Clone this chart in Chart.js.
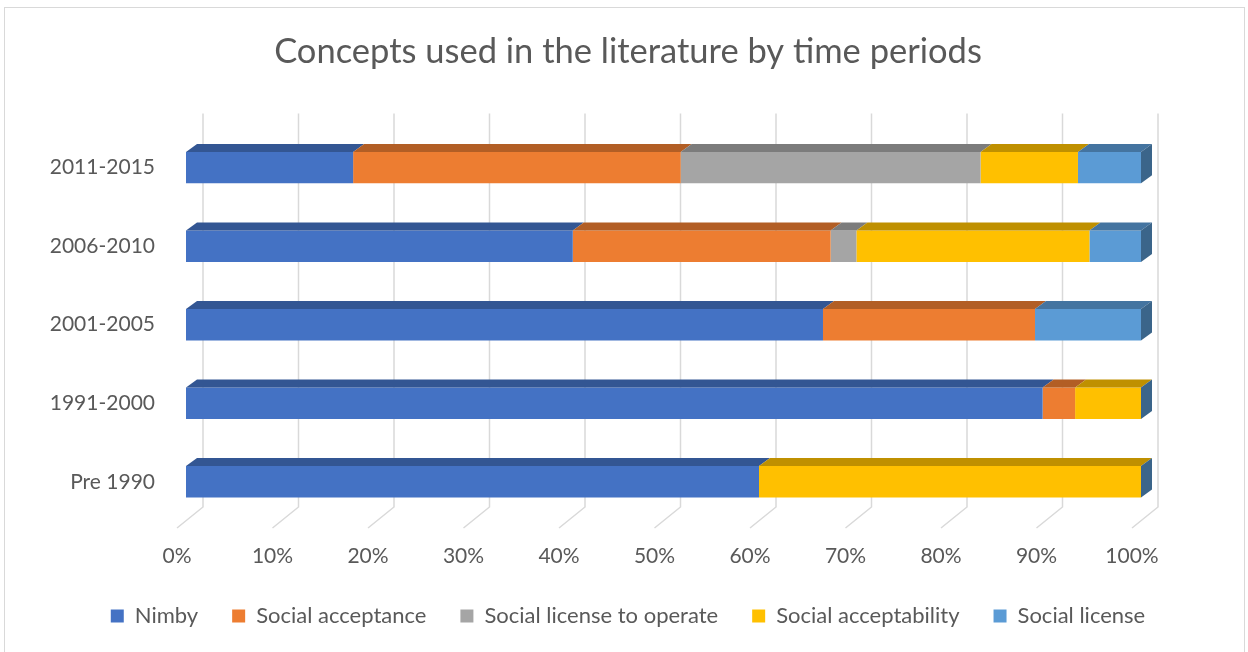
<!DOCTYPE html>
<html>
<head>
<meta charset="utf-8">
<script src="https://cdn.jsdelivr.net/npm/chart.js@4.4.0/dist/chart.umd.min.js"></script>
<style>
  html, body { margin: 0; padding: 0; background: #fff; }
  #wrap { position: relative; width: 1248px; height: 652px; overflow: hidden; }
  #frame { position: absolute; left: 4px; top: 7px; width: 1241px; height: 700px; border: 1px solid #d9d9d9; box-sizing: border-box; }
  canvas { position: absolute; left: 0; top: 0; }
</style>
</head>
<body>
<div id="wrap">
  <div id="frame"></div>
  <canvas id="chart" width="1248" height="652"></canvas>
</div>
<script>
// Periods, top to bottom as in the picture
const periods = ["2011-2015", "2006-2010", "2001-2005", "1991-2000", "Pre 1990"];

// Share of each concept per period (%)
const nimby = [17.5, 40.5, 66.7, 89.7, 60];
const socialAcceptance = [34.3, 27.0, 22.2, 3.4, 0];
const socialLicenseToOperate = [31.4, 2.7, 0, 0, 0];
const socialAcceptability = [10.2, 24.4, 0, 6.9, 40];
const socialLicense = [6.6, 5.4, 11.1, 0, 0];

const tickValues = [0, 10, 20, 30, 40, 50, 60, 70, 80, 90, 100];

const frontColors = ["#4472C4", "#ED7D31", "#A5A5A5", "#FFC000", "#5B9BD5"];
const topColors = ["#335693", "#B25E25", "#7C7C7C", "#BF9000", "#4474A0"];
const sideColor = "#3B658A";
const textColor = "#595959";
const fontFamily = "Lato, 'Noto Sans', sans-serif";

const depthX = 11, depthY = 8;

// fake 3D: back wall grid, top faces and the right end face
const bar3d = {
    id: "bar3d",
    beforeDatasetsDraw(chart) {
        const { ctx, chartArea: a } = chart;
        const x = chart.scales.x;
        ctx.save();
        ctx.strokeStyle = "#d9d9d9";
        ctx.lineWidth = 1.5;
        tickValues.forEach((v) => {
            const px = x.getPixelForValue(v);
            ctx.beginPath();
            ctx.moveTo(px + 17, a.top - 15);
            ctx.lineTo(px + 17, a.bottom - 14);
            ctx.lineTo(px - 9, a.bottom + 7);
            ctx.stroke();
        });
        ctx.restore();
    },
    afterDatasetsDraw(chart) {
        const ctx = chart.ctx;
        ctx.save();
        chart.data.datasets.forEach((ds, i) => {
            chart.getDatasetMeta(i).data.forEach((bar) => {
                const { x, y, base, height } = bar.getProps(["x", "y", "base", "height"], true);
                if (Math.abs(x - base) < 0.5) return;
                const top = y - height / 2;
                ctx.fillStyle = topColors[i];
                ctx.beginPath();
                ctx.moveTo(base, top);
                ctx.lineTo(base + depthX, top - depthY);
                ctx.lineTo(x + depthX, top - depthY);
                ctx.lineTo(x, top);
                ctx.closePath();
                ctx.fill();
            });
        });
        const xEnd = chart.scales.x.getPixelForValue(100);
        chart.getDatasetMeta(0).data.forEach((bar) => {
            const { y, height } = bar.getProps(["y", "height"], true);
            const top = y - height / 2, bot = y + height / 2;
            ctx.fillStyle = sideColor;
            ctx.beginPath();
            ctx.moveTo(xEnd, top);
            ctx.lineTo(xEnd + depthX, top - depthY);
            ctx.lineTo(xEnd + depthX, bot - depthY);
            ctx.lineTo(xEnd, bot);
            ctx.closePath();
            ctx.fill();
        });
        ctx.restore();
    },
};

function makeDataset(label, data, i) {
    return {
        label: label,
        data: data,
        backgroundColor: frontColors[i],
        borderWidth: 0,
        barPercentage: 0.4,
        categoryPercentage: 1,
    };
}

const ctx = document.getElementById("chart").getContext("2d");
new Chart(ctx, {
    type: "bar",
    data: {
        labels: periods,
        datasets: [
            makeDataset("Nimby", nimby, 0),
            makeDataset("Social acceptance", socialAcceptance, 1),
            makeDataset("Social license to operate", socialLicenseToOperate, 2),
            makeDataset("Social acceptability", socialAcceptability, 3),
            makeDataset("Social license", socialLicense, 4),
        ],
    },
    options: {
        indexAxis: "y",
        responsive: false,
        animation: false,
        layout: { padding: { left: 8, right: 0, top: 0, bottom: 15 } },
        plugins: {
            title: {
                display: true,
                text: "Concepts used in the literature by time periods",
                color: textColor,
                font: { family: fontFamily, size: 34.5, weight: "normal" },
                padding: { top: 31, bottom: 56 },
            },
            legend: {
                position: "bottom",
                labels: {
                    boxWidth: 13,
                    boxHeight: 13,
                    padding: 34,
                    color: textColor,
                    font: { family: fontFamily, size: 22 },
                },
            },
            tooltip: { enabled: false },
        },
        scales: {
            x: {
                type: "linear",
                stacked: true,
                min: 0,
                max: 100,
                grid: { display: false, drawTicks: false },
                border: { display: false },
                ticks: {
                    stepSize: 10,
                    padding: 23,
                    labelOffset: -9,
                    color: textColor,
                    font: { family: fontFamily, size: 21 },
                    callback: (v) => v + "%",
                },
                afterFit(s) { s.height = 50; },
            },
            y: {
                stacked: true,
                grid: { display: false, drawTicks: false },
                border: { display: false },
                ticks: {
                    padding: 31,
                    color: textColor,
                    font: { family: fontFamily, size: 21 },
                },
                afterFit(s) { s.width = 178; },
            },
            yr: {
                type: "category",
                position: "right",
                grid: { display: false, drawTicks: false },
                border: { display: false },
                ticks: { display: false },
                afterFit(s) { s.width = 107; },
            },
        },
    },
    plugins: [bar3d],
});
</script>
</body>
</html>
